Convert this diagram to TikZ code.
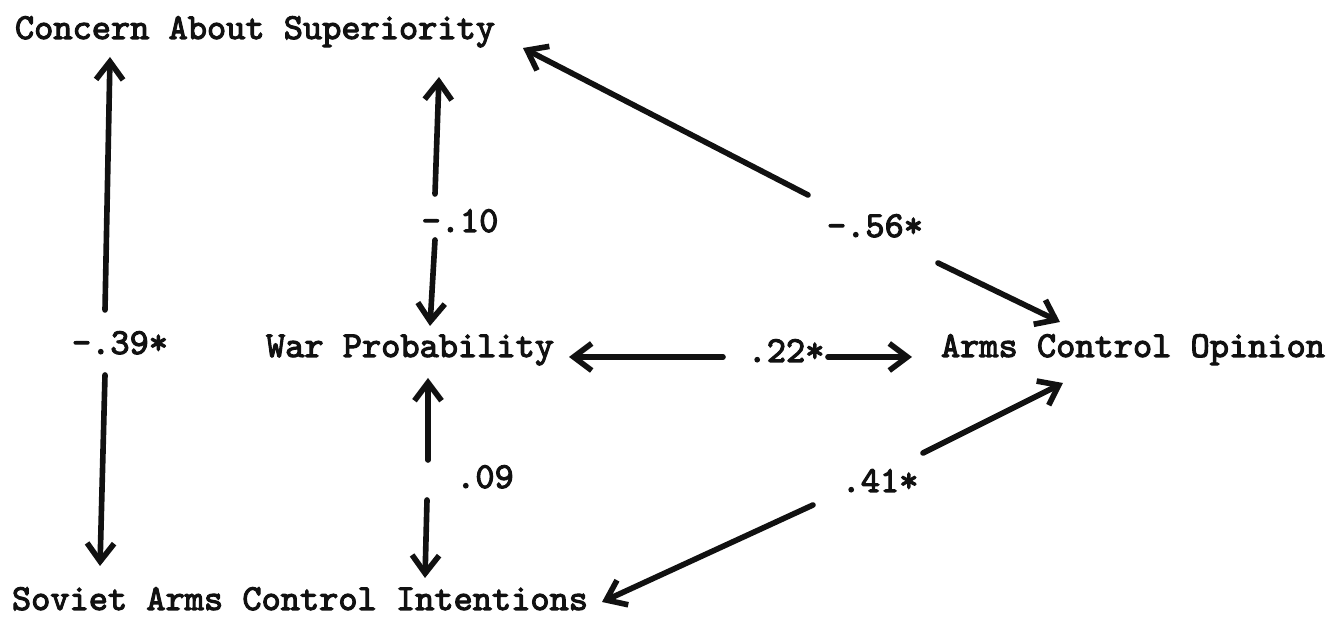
\documentclass[tikz,border=0pt]{standalone}
\usepackage{fontspec}
\newfontfamily\typer{lmmono10-regular}[Extension=.otf, FakeBold=3]
\usepackage{tikz}
\usetikzlibrary{arrows.meta}
\definecolor{ink}{HTML}{111111}
\tikzset{
  varbox/.style={
    anchor=base,
    inner sep=0pt,
    text=ink,
    font=\typer\fontsize{10.4pt}{12pt}\selectfont
  },
  coef/.style={
    varbox
  },
  link/.style={
    -{Straight Barb[length=1.8mm, width=2.7mm]},
    line width=1.6pt,
    draw=ink,
    line cap=round
  }
}

\begin{document}
\begin{tikzpicture}[x=0.01cm, y=-0.01cm]
    \useasboundingbox (0,0) rectangle (1338,622);
    % variables
    \node[varbox] (concern) at (255,39) {Concern About Superiority};
    \node[varbox] (war) at (410,357) {War Probability};
    \node[varbox] (arms) at (1133,357) {Arms Control Opinion};
    \node[varbox] (soviet) at (300,610) {Soviet Arms Control Intentions};
    % coefficients
    \node[coef] (r39) at (120,354) {-.39*};
    \node[coef] (r10) at (460,232) {-.10};
    \node[coef] (r56) at (875,237) {-.56*};
    \node[coef] (r22) at (786,362) {.22*};
    \node[coef] (r09) at (485,488) {.09};
    \node[coef] (r41) at (880,492) {.41*};
    % ends of the arrows, broken at the coefficient
    \coordinate (cs1) at (110,57);   \coordinate (cs2) at (105,310);
    \coordinate (cs3) at (105,375);  \coordinate (cs4) at (100,566);
    \coordinate (cw1) at (439,77);   \coordinate (cw2) at (435,194);
    \coordinate (cw3) at (435,240);  \coordinate (cw4) at (430,326);
    \coordinate (ws1) at (428,378);  \coordinate (ws2) at (428,460);
    \coordinate (ws3) at (427,500);  \coordinate (ws4) at (425,578);
    \coordinate (wa1) at (569,357);  \coordinate (wa2) at (723,357);
    \coordinate (wa3) at (828,357);  \coordinate (wa4) at (912,357);
    \coordinate (ca1) at (523,48);   \coordinate (ca2) at (808,195);
    \coordinate (ca3) at (938,263);  \coordinate (ca4) at (1060,322);
    \coordinate (sa1) at (602,602);  \coordinate (sa2) at (813,505);
    \coordinate (sa3) at (923,453);  \coordinate (sa4) at (1063,383);
    \foreach \p in {cs,cw,ws,wa,ca,sa} {
      \draw[link] (\p2) -- (\p1);
      \draw[link] (\p3) -- (\p4);
    }
  \end{tikzpicture}
\end{document}
